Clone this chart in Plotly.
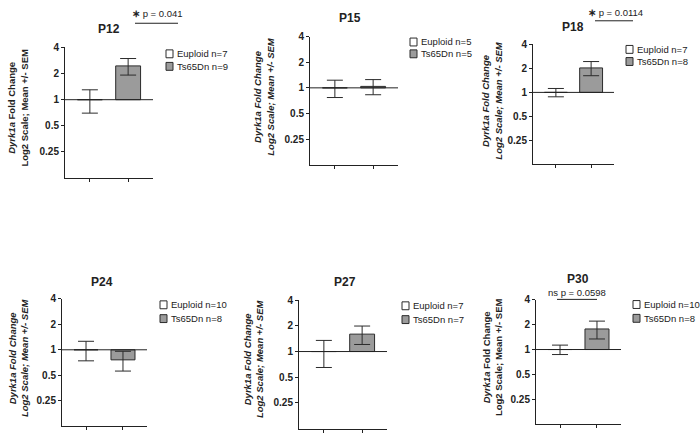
import math
import plotly.graph_objects as go

# ---------------- data ----------------
panels = ["P12", "P15", "P18", "P24", "P27", "P30"]
groups = ["Euploid", "Ts65Dn"]
euploid_mean = [1.00, 1.00, 1.00, 1.00, 1.00, 1.00]
euploid_sem = [0.30, 0.23, 0.12, 0.26, 0.35, 0.13]
ts_mean = [2.45, 1.04, 2.03, 0.76, 1.60, 1.77]
ts_sem = [0.53, 0.21, 0.41, 0.20, 0.39, 0.43]
euploid_n = [7, 5, 7, 10, 7, 10]
ts_n = [9, 5, 8, 8, 7, 8]
STAR = "<b>\u2217</b>"
sig_text = [STAR + " p = 0.041", None, STAR + " p = 0.0114", None, None, "ns p = 0.0598"]
italic_title = [False, True, True, True, True, False]
y_ticks = [0.25, 0.5, 1, 2, 4]
y_ticklabels = ["0.25", "0.5", "1", "2", "4"]

# ---------------- layout geometry (pixels) ----------------
W, H = 700, 434
# x0, x1, ytop(=4), ybottom(=0.125)
boxes = [
    (65, 153, 42, 174.5),
    (310, 398, 31, 161),
    (533, 614, 39, 160.5),
    (62, 147, 297, 426),
    (299, 387, 298.3, 428.5),
    (536, 621, 297.7, 424.3),
]
title_pos = [(109, 23), (350, 12), (573, 21), (102, 280), (345, 280), (578, 276.5)]
ytitle_pos = [(18, 103), (264, 92), (492, 96), (18, 357), (253, 358), (492, 356)]
legend_pos = [(166, 48.5, 12.7), (410, 36.5, 12.0), (626, 44, 12.3),
              (160, 303, 14), (402, 304, 14), (633, 302.7, 14)]
# sig: text center x, text y, line x0, x1, line y
sig_pos = [(157, 8, 135, 178, 17.5), None, (615, 6.5, 595, 633, 15), None, None,
           (577, 290.5, 557, 597, 297.5)]

FONT = "Liberation Sans, Arial, sans-serif"
BAR_GRAY = "#9b9b9b"
EDGE = "#2b2b2b"


def px(x):
    return x / W


def py(y):
    return 1 - y / H


fig = go.Figure()
layout = dict(
    width=W, height=H, margin=dict(l=0, r=0, t=0, b=0),
    paper_bgcolor="white", plot_bgcolor="white", showlegend=False,
    font=dict(family=FONT, color="#222"),
)
shapes = []
annotations = []

for i, name in enumerate(panels):
    k = "" if i == 0 else str(i + 1)
    xa, ya = "x" + k, "y" + k
    x0, x1, yt, yb = boxes[i]
    layout["xaxis" + k] = dict(
        domain=[px(x0), px(x1)], anchor=ya, range=[-0.65, 1.65],
        tickvals=[0, 1], ticktext=["", ""], ticks="outside", ticklen=3,
        tickcolor="#222", showline=True, linecolor="#222", linewidth=1,
        showgrid=False, zeroline=False, fixedrange=True,
    )
    layout["yaxis" + k] = dict(
        domain=[py(yb), py(yt)], anchor=xa, type="log",
        range=[math.log10(0.125), math.log10(4)],
        tickvals=y_ticks, ticktext=y_ticklabels, ticks="outside", ticklen=3,
        tickcolor="#222", showline=True, linecolor="#222", linewidth=1,
        showgrid=False, zeroline=False,
        tickfont=dict(family=FONT, size=10, color="#222", weight="bold"),
        fixedrange=True,
    )
    means = [euploid_mean[i], ts_mean[i]]
    sems = [euploid_sem[i], ts_sem[i]]
    # bars drawn from the baseline 1 up/down to the mean
    fig.add_trace(go.Bar(
        x=[0, 1], y=[m - 1 for m in means], base=[1, 1], width=0.65,
        marker=dict(color=["white", BAR_GRAY], line=dict(color=EDGE, width=1)),
        xaxis=xa, yaxis=ya, hoverinfo="skip",
    ))
    # error bars (mean +/- SEM)
    fig.add_trace(go.Scatter(
        x=[0, 1], y=means, mode="markers",
        marker=dict(size=1, opacity=0),
        error_y=dict(type="data", array=sems, visible=True,
                     color=EDGE, thickness=1, width=8),
        xaxis=xa, yaxis=ya, hoverinfo="skip",
    ))
    # baseline at fold change 1
    shapes.append(dict(type="line", xref=xa + " domain", yref=ya,
                       x0=0, x1=1, y0=1, y1=1,
                       line=dict(color="#222", width=1)))
    # panel title
    tx, ty = title_pos[i]
    annotations.append(dict(text="<b>" + name + "</b>", x=px(tx), y=py(ty),
                            xref="paper", yref="paper", showarrow=False,
                            xanchor="center", yanchor="middle",
                            font=dict(family=FONT, size=12, color="#222")))
    # y-axis title
    if italic_title[i]:
        t = "<i>Dyrk1a Fold Change</i><br><i>Log2 Scale; Mean +/- SEM</i>"
    else:
        t = "<i>Dyrk1a</i> Fold Change<br>Log2 Scale; Mean +/- SEM"
    ax_, ay_ = ytitle_pos[i]
    annotations.append(dict(text=t, x=px(ax_), y=py(ay_), xref="paper", yref="paper",
                            showarrow=False, textangle=-90, xanchor="center",
                            yanchor="middle",
                            font=dict(family=FONT, size=9.5, color="#222",
                                      weight="bold")))
    # legend
    lx, ly, ld = legend_pos[i]
    labels = [f"Euploid n={euploid_n[i]}", f"Ts65Dn n={ts_n[i]}"]
    fills = ["white", BAR_GRAY]
    for j in range(2):
        cy = ly + j * ld
        shapes.append(dict(type="rect", xref="paper", yref="paper",
                           x0=px(lx), x1=px(lx + 7), y0=py(cy + 4), y1=py(cy - 4),
                           fillcolor=fills[j], line=dict(color=EDGE, width=1)))
        annotations.append(dict(text=labels[j], x=px(lx + 9), y=py(cy),
                                xref="paper", yref="paper", showarrow=False,
                                xanchor="left", yanchor="middle",
                                font=dict(family=FONT, size=9.5, color="#222")))
    # significance
    if sig_text[i] is not None:
        sx, sy, l0, l1, lyy = sig_pos[i]
        annotations.append(dict(text=sig_text[i], x=px(sx), y=py(sy), xref="paper",
                                yref="paper", showarrow=False, xanchor="center",
                                yanchor="middle",
                                font=dict(family=FONT, size=9.5, color="#222")))
        shapes.append(dict(type="line", xref="paper", yref="paper",
                           x0=px(l0), x1=px(l1), y0=py(lyy), y1=py(lyy),
                           line=dict(color="#222", width=1)))

layout["shapes"] = shapes
layout["annotations"] = annotations
fig.update_layout(**layout)
fig.write_html("out.html",
               config={"displayModeBar": False},
               post_script="document.body.style.margin='0';"
                           "document.body.style.overflow='hidden';")
